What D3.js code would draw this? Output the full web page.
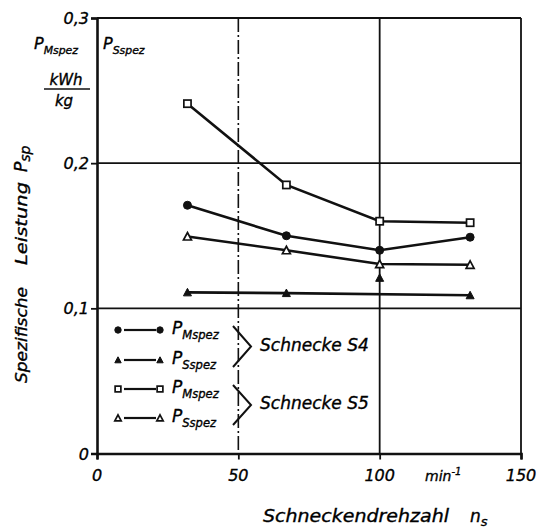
<!DOCTYPE html>
<html>
<head>
<meta charset="utf-8">
<script src="https://cdn.jsdelivr.net/npm/d3@7"></script>
<style>
  body { margin: 0; background: #fff; }
  svg { display: block; }
  text { font-family: "DejaVu Sans", sans-serif; font-style: italic; fill: #000; stroke: #000; stroke-width: 0.35; }
</style>
</head>
<body>
<div class="chart"></div>
<script>
const width = 542;
const height = 531;

// Schneckendrehzahl n_s (min^-1)
const drehzahl = [32, 67, 100, 132];
// spezifische Leistung in kWh/kg
const pmS4 = [0.171, 0.150, 0.140, 0.149];
const psS4 = [0.111, 0.1105, 0.121, 0.109];
const pmS5 = [0.241, 0.185, 0.160, 0.159];
const psS5 = [0.1495, 0.140, 0.1305, 0.130];

const xTicks = [0, 50, 100, 150];
const yTicks = [0, 0.1, 0.2, 0.3];
const yTickLabels = ["0", "0,1", "0,2", "0,3"];

const margin = { top: 18, right: 21, bottom: 77.5, left: 97 };

const x = d3.scaleLinear().domain([0, 150]).range([margin.left, width - margin.right]);
const y = d3.scaleLinear().domain([0, 0.3]).range([height - margin.bottom, margin.top]);

const svg = d3.select(".chart")
    .append("svg")
    .attr("width", width)
    .attr("height", height);

// grid
svg.append("g")
    .selectAll("line")
    .data([0.1, 0.2, 0.3])
    .enter()
    .append("line")
    .attr("x1", x(0))
    .attr("x2", x(150))
    .attr("y1", (d) => y(d))
    .attr("y2", (d) => y(d))
    .attr("stroke", "#111")
    .attr("stroke-width", 1.8);

svg.append("line")
    .attr("x1", x(50)).attr("x2", x(50))
    .attr("y1", y(0.3)).attr("y2", y(0))
    .attr("stroke", "#111")
    .attr("stroke-width", 1.6)
    .attr("stroke-dasharray", "14,3,2,3");

svg.append("g")
    .selectAll("line")
    .data([100, 150])
    .enter()
    .append("line")
    .attr("x1", (d) => x(d))
    .attr("x2", (d) => x(d))
    .attr("y1", y(0.3))
    .attr("y2", y(0))
    .attr("stroke", "#111")
    .attr("stroke-width", 1.8);

// axes
const xAxis = svg.append("g")
    .attr("transform", `translate(0,${y(0)})`)
    .call(d3.axisBottom(x).tickValues(xTicks).tickSize(6).tickFormat(""));
const yAxis = svg.append("g")
    .attr("transform", `translate(${x(0)},0)`)
    .call(d3.axisLeft(y).tickValues(yTicks).tickSize(6).tickFormat(""));

[xAxis, yAxis].forEach((a) => {
    a.select(".domain").attr("stroke", "#111").attr("stroke-width", 2.6);
    a.selectAll(".tick line").attr("stroke", "#111").attr("stroke-width", 1.8);
});

// tick labels
svg.append("g")
    .selectAll("text")
    .data(xTicks)
    .enter()
    .append("text")
    .attr("x", (d) => x(d))
    .attr("y", y(0) + 27)
    .attr("text-anchor", "middle")
    .attr("font-size", 16)
    .text((d) => d);

svg.append("g")
    .selectAll("text")
    .data(yTicks)
    .enter()
    .append("text")
    .attr("x", x(0) - 8)
    .attr("y", (d) => y(d) + 6)
    .attr("text-anchor", "end")
    .attr("font-size", 16)
    .text((d, i) => yTickLabels[i]);

const minText = svg.append("text")
    .attr("x", 425)
    .attr("y", y(0) + 27)
    .attr("font-size", 14);
minText.append("tspan").text("min");
minText.append("tspan").attr("dy", -6).attr("font-size", 10).text("-1");

// axis titles
svg.append("text")
    .attr("x", 263)
    .attr("y", 522)
    .attr("font-size", 17)
    .attr("textLength", 186)
    .attr("lengthAdjust", "spacingAndGlyphs")
    .text("Schneckendrehzahl");
const nsText = svg.append("text")
    .attr("x", 470)
    .attr("y", 522)
    .attr("font-size", 17);
nsText.append("tspan").text("n");
nsText.append("tspan").attr("dy", 4).attr("font-size", 13).text("s");

const yTitle = svg.append("g")
    .attr("transform", "translate(27,383) rotate(-90)");
yTitle.append("text")
    .attr("x", 0)
    .attr("font-size", 16)
    .attr("textLength", 96)
    .attr("lengthAdjust", "spacingAndGlyphs")
    .text("Spezifische");
yTitle.append("text")
    .attr("x", 118)
    .attr("font-size", 16)
    .attr("textLength", 83)
    .attr("lengthAdjust", "spacingAndGlyphs")
    .text("Leistung");
const psp = yTitle.append("text")
    .attr("x", 211)
    .attr("font-size", 17);
psp.append("tspan").text("P");
psp.append("tspan").attr("dy", 3).attr("font-size", 14).text("sp");

// unit label at top left
function pLabel(px, py, sub, size) {
    const t = svg.append("text")
        .attr("x", px)
        .attr("y", py)
        .attr("font-size", size);
    t.append("tspan").text("P");
    t.append("tspan").attr("dy", size * 0.3).attr("font-size", size * 0.68).text(sub);
    return t;
}
pLabel(34, 49, "Mspez", 16);
pLabel(103, 49, "Sspez", 16);

svg.append("text").attr("x", 66).attr("y", 85).attr("text-anchor", "middle").attr("font-size", 15).text("kWh");
svg.append("line")
    .attr("x1", 44).attr("x2", 90)
    .attr("y1", 89).attr("y2", 89)
    .attr("stroke", "#111").attr("stroke-width", 1.6);
svg.append("text").attr("x", 64).attr("y", 106).attr("text-anchor", "middle").attr("font-size", 15).text("kg");

// series
const series = [
    { values: pmS4, marker: "circle", filled: true, skip: [] },
    { values: psS4, marker: "triangle", filled: true, skip: [2] },
    { values: pmS5, marker: "square", filled: false, skip: [] },
    { values: psS5, marker: "triangle", filled: false, skip: [] },
];

const line = d3.line().x((d) => x(d.n)).y((d) => y(d.v));

function drawMarker(g, kind, filled, cx, cy, s) {
    let m;
    if (kind === "circle") {
        m = g.append("circle").attr("cx", cx).attr("cy", cy).attr("r", 4 * s);
    } else if (kind === "square") {
        m = g.append("rect").attr("x", cx - 3.6 * s).attr("y", cy - 3.6 * s)
            .attr("width", 7.2 * s).attr("height", 7.2 * s);
    } else {
        m = g.append("path")
            .attr("d", `M${cx},${cy - 4 * s}L${cx + 4 * s},${cy + 3.5 * s}L${cx - 4 * s},${cy + 3.5 * s}Z`);
    }
    m.attr("fill", filled ? "#111" : "#fff")
        .attr("stroke", "#111")
        .attr("stroke-width", filled ? 1 : 1.7);
}

series.forEach((s) => {
    const pts = drehzahl.map((n, i) => ({ n: n, v: s.values[i], i: i }));
    svg.append("path")
        .datum(pts.filter((p) => !s.skip.includes(p.i)))
        .attr("d", line)
        .attr("fill", "none")
        .attr("stroke", "#111")
        .attr("stroke-width", 2.6);
    const g = svg.append("g");
    pts.forEach((p) => drawMarker(g, s.marker, s.filled, x(p.n), y(p.v), 1));
});

// legend
const legendRows = [
    { marker: "circle", filled: true, sub: "Mspez", y: 330 },
    { marker: "triangle", filled: true, sub: "Sspez", y: 360 },
    { marker: "square", filled: false, sub: "Mspez", y: 389 },
    { marker: "triangle", filled: false, sub: "Sspez", y: 418 },
];
const legend = svg.append("g");
legendRows.forEach((r) => {
    legend.append("line")
        .attr("x1", 124).attr("x2", 156)
        .attr("y1", r.y).attr("y2", r.y)
        .attr("stroke", "#111").attr("stroke-width", 2.2);
    drawMarker(legend, r.marker, r.filled, 118, r.y, 0.8);
    drawMarker(legend, r.marker, r.filled, 160, r.y, 0.8);
    pLabel(172, r.y + 4, r.sub, 17);
});

// brackets
[[326, 367, "Schnecke S4"], [385, 425, "Schnecke S5"]].forEach((b) => {
    const mid = (b[0] + b[1]) / 2;
    legend.append("path")
        .attr("d", `M233,${b[0]}L251,${mid}L233,${b[1]}`)
        .attr("fill", "none")
        .attr("stroke", "#111")
        .attr("stroke-width", 2);
    legend.append("text")
        .attr("x", 260)
        .attr("y", mid + 4)
        .attr("font-size", 17)
        .text(b[2]);
});
</script>
</body>
</html>
